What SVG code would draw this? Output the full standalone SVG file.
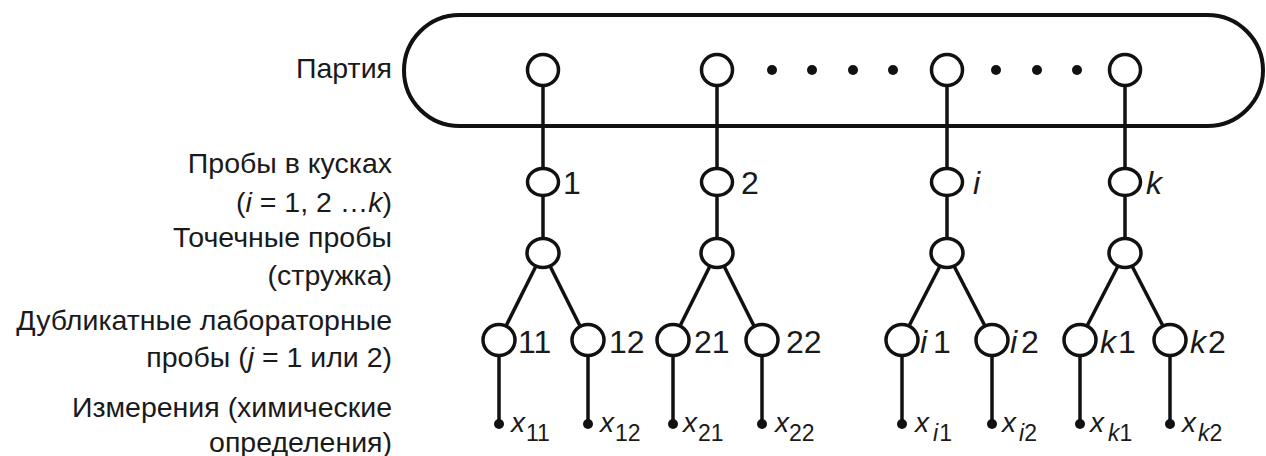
<svg xmlns="http://www.w3.org/2000/svg" width="1266" height="456" viewBox="0 0 1266 456">
<style>
.lbl{font-family:"Liberation Sans",Arial,sans-serif;font-size:28.5px;fill:#1a1a1a;text-anchor:end}
.num{font-family:"Liberation Sans",Arial,sans-serif;font-size:32px;fill:#1a1a1a}
.sub{font-family:"Liberation Sans",Arial,sans-serif;font-size:28px;fill:#1a1a1a}
.it{font-style:italic}
.s{font-size:23px}
.node{fill:#fff;stroke:#111;stroke-width:3.5}
.dot{fill:#111}
.edge{stroke:#111;stroke-width:3.5;fill:none}
.oval{fill:none;stroke:#111;stroke-width:4}
</style>
<rect width="1266" height="456" fill="#fff"/>
<g id="labels">
<text class="lbl" x="392" y="78">Партия</text>
<text class="lbl" x="392" y="173">Пробы в кусках</text>
<text class="lbl" x="392" y="212">(<tspan class="it">i</tspan> = 1, 2 …<tspan class="it">k</tspan>)</text>
<text class="lbl" x="392" y="247">Точечные пробы</text>
<text class="lbl" x="392" y="285">(стружка)</text>
<text class="lbl" x="392" y="330">Дубликатные лабораторные</text>
<text class="lbl" x="392" y="367">пробы (<tspan class="it">j</tspan> = 1 или 2)</text>
<text class="lbl" x="392" y="417">Измерения (химические</text>
<text class="lbl" x="392" y="452">определения)</text>
</g>
<g id="connectors">
<line class="edge" x1="543" y1="85" x2="543" y2="169"/>
<line class="edge" x1="717" y1="85" x2="717" y2="169"/>
<line class="edge" x1="947" y1="85" x2="947" y2="169"/>
<line class="edge" x1="1125" y1="85" x2="1125" y2="169"/>
<line class="edge" x1="543" y1="197" x2="543" y2="238"/>
<line class="edge" x1="717" y1="197" x2="717" y2="238"/>
<line class="edge" x1="947" y1="197" x2="947" y2="238"/>
<line class="edge" x1="1125" y1="197" x2="1125" y2="238"/>
<line class="edge" x1="536" y1="266" x2="506" y2="326"/>
<line class="edge" x1="550" y1="266" x2="580" y2="326"/>
<line class="edge" x1="710" y1="266" x2="680" y2="326"/>
<line class="edge" x1="724" y1="266" x2="754" y2="326"/>
<line class="edge" x1="940" y1="266" x2="909" y2="326"/>
<line class="edge" x1="954" y1="266" x2="985" y2="326"/>
<line class="edge" x1="1118" y1="266" x2="1087" y2="326"/>
<line class="edge" x1="1132" y1="266" x2="1163" y2="326"/>
<line class="edge" x1="499" y1="356" x2="499" y2="424"/>
<line class="edge" x1="588" y1="356" x2="588" y2="424"/>
<line class="edge" x1="673" y1="356" x2="673" y2="424"/>
<line class="edge" x1="762" y1="356" x2="762" y2="424"/>
<line class="edge" x1="902" y1="356" x2="902" y2="424"/>
<line class="edge" x1="992" y1="356" x2="992" y2="424"/>
<line class="edge" x1="1080" y1="356" x2="1080" y2="424"/>
<line class="edge" x1="1170" y1="356" x2="1170" y2="424"/>
</g>
<g id="lot">
<rect class="oval" x="404" y="15" width="859" height="111" rx="55.5" ry="55.5"/>
<circle class="dot" cx="772" cy="70" r="5"/>
<circle class="dot" cx="812" cy="70" r="5"/>
<circle class="dot" cx="853" cy="70" r="5"/>
<circle class="dot" cx="893" cy="70" r="5"/>
<circle class="dot" cx="996" cy="70" r="5"/>
<circle class="dot" cx="1037" cy="70" r="5"/>
<circle class="dot" cx="1077" cy="70" r="5"/>
</g>
<g id="lot-1"><circle class="node" cx="543" cy="70" r="15.5"/></g>
<g id="lot-2"><circle class="node" cx="717" cy="70" r="15.5"/></g>
<g id="lot-i"><circle class="node" cx="947" cy="70" r="15.5"/></g>
<g id="lot-k"><circle class="node" cx="1125" cy="70" r="15.5"/></g>
<g id="piece-1"><ellipse class="node" cx="543" cy="182" rx="15.5" ry="13.5"/><text class="num" x="563" y="194">1</text></g>
<g id="piece-2"><ellipse class="node" cx="717" cy="182" rx="15.5" ry="13.5"/><text class="num" x="741" y="194">2</text></g>
<g id="piece-i"><ellipse class="node" cx="947" cy="182" rx="15.5" ry="13.5"/><text class="num it" x="973" y="194">i</text></g>
<g id="piece-k"><ellipse class="node" cx="1125" cy="182" rx="15.5" ry="13.5"/><text class="num it" x="1146" y="194">k</text></g>
<g id="incr-1"><ellipse class="node" cx="543" cy="253" rx="16" ry="14.5"/></g>
<g id="incr-2"><ellipse class="node" cx="717" cy="253" rx="16" ry="14.5"/></g>
<g id="incr-i"><ellipse class="node" cx="947" cy="253" rx="16" ry="14.5"/></g>
<g id="incr-k"><ellipse class="node" cx="1125" cy="253" rx="16" ry="14.5"/></g>
<g id="lab-11"><ellipse class="node" cx="499" cy="340" rx="16" ry="15.5"/><text class="num" x="518" y="353">11</text></g>
<g id="lab-12"><ellipse class="node" cx="588" cy="340" rx="16" ry="15.5"/><text class="num" x="609" y="353">12</text></g>
<g id="lab-21"><ellipse class="node" cx="673" cy="340" rx="16" ry="15.5"/><text class="num" x="694" y="353">21</text></g>
<g id="lab-22"><ellipse class="node" cx="762" cy="340" rx="16" ry="15.5"/><text class="num" x="786" y="353">22</text></g>
<g id="lab-i1"><ellipse class="node" cx="902" cy="340" rx="16" ry="15.5"/><text class="num" x="920" y="353"><tspan class="it">i</tspan><tspan dx="6">1</tspan></text></g>
<g id="lab-i2"><ellipse class="node" cx="992" cy="340" rx="16" ry="15.5"/><text class="num" x="1010" y="353"><tspan class="it">i</tspan><tspan dx="4">2</tspan></text></g>
<g id="lab-k1"><ellipse class="node" cx="1080" cy="340" rx="16" ry="15.5"/><text class="num" x="1100" y="353"><tspan class="it">k</tspan><tspan dx="2">1</tspan></text></g>
<g id="lab-k2"><ellipse class="node" cx="1170" cy="340" rx="16" ry="15.5"/><text class="num" x="1190" y="353"><tspan class="it">k</tspan><tspan dx="2">2</tspan></text></g>
<g id="m-11"><circle class="dot" cx="499" cy="424" r="5"/><text class="sub" x="511" y="432"><tspan class="it">x</tspan><tspan class="s" dx="1" dy="9">11</tspan></text></g>
<g id="m-12"><circle class="dot" cx="588" cy="424" r="5"/><text class="sub" x="600" y="432"><tspan class="it">x</tspan><tspan class="s" dx="1" dy="9">12</tspan></text></g>
<g id="m-21"><circle class="dot" cx="673" cy="424" r="5"/><text class="sub" x="683" y="432"><tspan class="it">x</tspan><tspan class="s" dx="1" dy="9">21</tspan></text></g>
<g id="m-22"><circle class="dot" cx="762" cy="424" r="5"/><text class="sub" x="775" y="432"><tspan class="it">x</tspan><tspan class="s" dx="0" dy="9">22</tspan></text></g>
<g id="m-i1"><circle class="dot" cx="902" cy="424" r="5"/><text class="sub" x="915" y="432"><tspan class="it">x</tspan><tspan class="s it" dx="4" dy="9">i</tspan><tspan class="s" dx="1">1</tspan></text></g>
<g id="m-i2"><circle class="dot" cx="992" cy="424" r="5"/><text class="sub" x="1002" y="432"><tspan class="it">x</tspan><tspan class="s it" dx="3" dy="9">i</tspan><tspan class="s">2</tspan></text></g>
<g id="m-k1"><circle class="dot" cx="1080" cy="424" r="5"/><text class="sub" x="1090" y="432"><tspan class="it">x</tspan><tspan class="s it" dx="4" dy="9">k</tspan><tspan class="s">1</tspan></text></g>
<g id="m-k2"><circle class="dot" cx="1170" cy="424" r="5"/><text class="sub" x="1182" y="432"><tspan class="it">x</tspan><tspan class="s it" dx="2" dy="9">k</tspan><tspan class="s">2</tspan></text></g>
</svg>
